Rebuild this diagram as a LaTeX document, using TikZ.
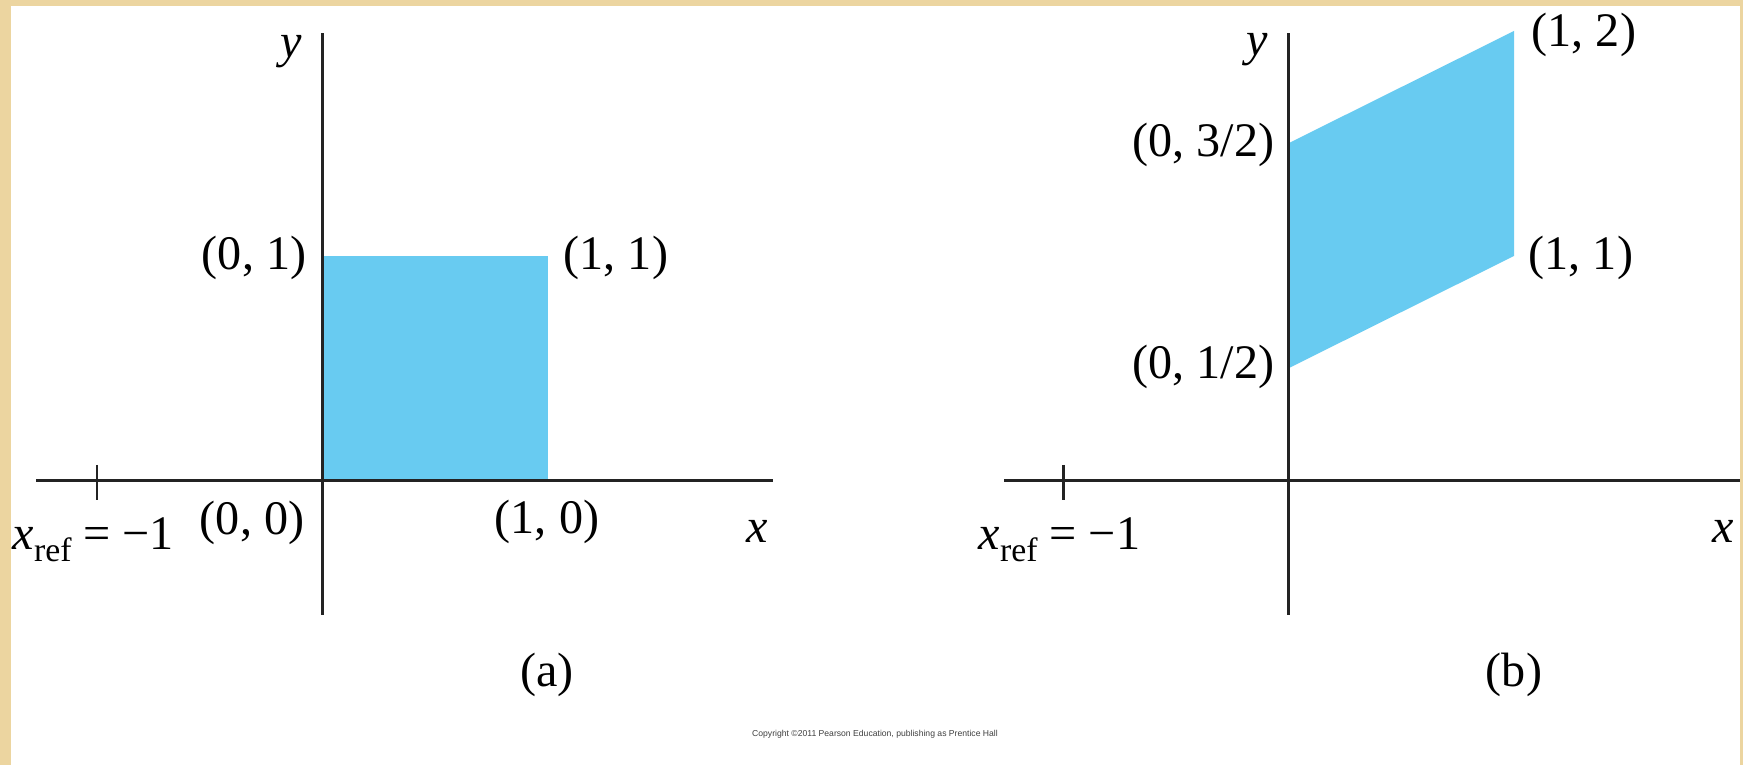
\documentclass[tikz,border=0pt]{standalone}
\usepackage{fontspec}
\setmainfont{Liberation Serif}
\newfontfamily\tinysans{Liberation Sans}
\definecolor{tanbg}{RGB}{236,213,160}
\definecolor{fillblue}{RGB}{104,203,241}
\definecolor{axisgray}{RGB}{35,35,35}
\newcommand{\xrefsub}{\textit{x}\raisebox{-0.24em}{\fontsize{9.6}{10}\selectfont ref}}
\begin{document}
\begin{tikzpicture}[x=0.01cm,y=-0.01cm,
  lbl/.style={inner sep=0pt, font=\fontsize{13.7}{16}\selectfont},
  axisline/.style={line width=0.85pt, draw=axisgray},
  region/.style={fill=fillblue, draw=none}]
\fill[tanbg] (0,0) rectangle (1743,765);
\fill[white] (11,6) rectangle (1740,765);
\useasboundingbox (0,0) rectangle (1743,765);
% ---------- panel (a) ----------
\coordinate (aO) at (322,481);
\coordinate (aYt) at (322,33);
\coordinate (aYb) at (322,615);
\coordinate (aXl) at (36,481);
\coordinate (aXr) at (773,481);
\coordinate (aP11) at (548,256);
\coordinate (aTt) at (97,465);
\coordinate (aTb) at (97,500);
\fill[region] (aO) rectangle (aP11);
\draw[axisline] (aXl) -- (aXr);
\draw[axisline] (aYb) -- (aYt);
\draw[axisline] (aTt) -- (aTb);
\node[lbl] (aY) at (291,52) {\textit{y}};
\node[lbl] (aX) at (757,531) {\textit{x}};
\node[lbl, anchor=east] (aL01) at (307,258) {(0, 1)};
\node[lbl, anchor=west] (aL11) at (563,258) {(1, 1)};
\node[lbl, anchor=east] (aL00) at (305,523) {(0, 0)};
\node[lbl] (aL10) at (547,522) {(1, 0)};
\node[lbl, anchor=base west] (aRef) at (12,550) {\xrefsub{} = −1};
\node[lbl] (aCap) at (547,675) {(a)};
% ---------- panel (b) ----------
\coordinate (bO) at (1288,481);
\coordinate (bYt) at (1288,33);
\coordinate (bYb) at (1288,615);
\coordinate (bXl) at (1004,481);
\coordinate (bXr) at (1740,481);
\coordinate (bP0a) at (1288,368.5);
\coordinate (bP11) at (1514,256);
\coordinate (bP12) at (1514,31);
\coordinate (bP0b) at (1288,143.5);
\coordinate (bTt) at (1063,465);
\coordinate (bTb) at (1063,500);
\fill[region] (bP0a) -- (bP11) -- (bP12) -- (bP0b) -- cycle;
\draw[axisline] (bXl) -- (bXr);
\draw[axisline] (bYb) -- (bYt);
\draw[axisline] (bTt) -- (bTb);
\node[lbl] (bY) at (1257,50) {\textit{y}};
\node[lbl] (bX) at (1723,531) {\textit{x}};
\node[lbl, anchor=west] (bL12) at (1531,35) {(1, 2)};
\node[lbl, anchor=east] (bL032) at (1275,145) {(0, 3/2)};
\node[lbl, anchor=west] (bL11) at (1528,258) {(1, 1)};
\node[lbl, anchor=east] (bL012) at (1275,367) {(0, 1/2)};
\node[lbl, anchor=base west] (bRef) at (978,550) {\xrefsub{} = −1};
\node[lbl] (bCap) at (1514,675) {(b)};
% ---------- copyright ----------
\node[inner sep=0pt, text=black!75, font=\tinysans\fontsize{2.45}{3}\selectfont] (copy) at (875,734) {Copyright ©2011 Pearson Education, publishing as Prentice Hall};
\end{tikzpicture}
\end{document}
